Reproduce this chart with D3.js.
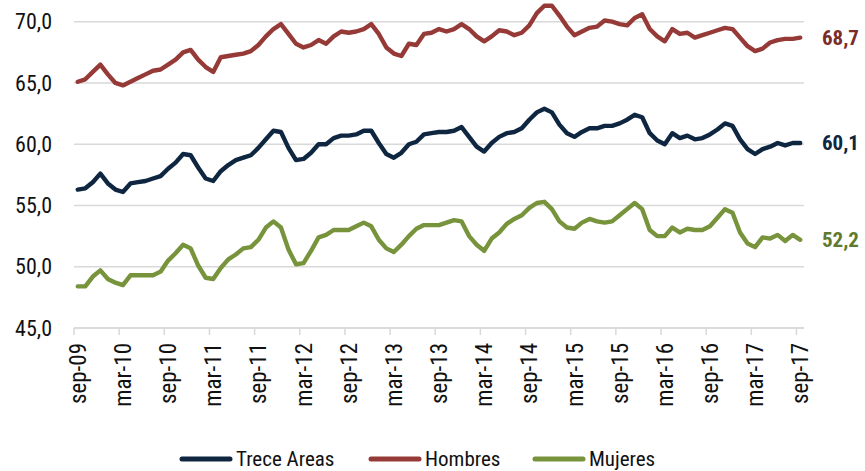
<!DOCTYPE html>
<html>
<head>
<meta charset="utf-8">
<script src="https://cdn.jsdelivr.net/npm/d3@7"></script>
<style>
  html, body { margin: 0; padding: 0; background: #ffffff; }
  svg { display: block; }
  text { font-family: "Liberation Sans Narrow", "Arial Narrow", "Roboto Condensed", "Liberation Sans", sans-serif; }
</style>
</head>
<body>
<svg id="chart" width="865" height="471"></svg>
<script>
// Monthly series, sep-2009 .. sep-2017 (97 months)
const startMonth = new Date(2009, 8, 1);
const endMonth = new Date(2017, 8, 1);

const trece = [
  56.3, 56.4, 56.9, 57.6, 56.8, 56.3, 56.1, 56.8, 56.9, 57.0, 57.2, 57.4, 58.0, 58.5, 59.2, 59.1,
  58.1, 57.2, 57.0, 57.8, 58.3, 58.7, 58.9, 59.1, 59.7, 60.4, 61.1, 61.0, 59.7, 58.7, 58.8,
  59.3, 60.0, 60.0, 60.5, 60.7, 60.7, 60.8, 61.1, 61.1, 60.1, 59.2, 58.9, 59.3, 60.0, 60.2, 60.8,
  60.9, 61.0, 61.0, 61.1, 61.4, 60.6, 59.8, 59.4, 60.1, 60.6, 60.9, 61.0, 61.3, 62.0, 62.6, 62.9,
  62.6, 61.6, 60.9, 60.6, 61.0, 61.3, 61.3, 61.5, 61.5, 61.7, 62.0, 62.4, 62.2, 60.9, 60.3, 60.0,
  60.9, 60.5, 60.7, 60.4, 60.5, 60.8, 61.2, 61.7, 61.5, 60.4, 59.6, 59.2, 59.6, 59.8, 60.1, 59.9, 60.1, 60.1
];

const hombres = [
  65.1, 65.3, 65.9, 66.5, 65.7, 65.0, 64.8, 65.1, 65.4, 65.7, 66.0, 66.1, 66.5, 66.9, 67.5, 67.7,
  66.9, 66.3, 65.9, 67.1, 67.2, 67.3, 67.4, 67.6, 68.1, 68.8, 69.4, 69.8, 69.0, 68.2, 67.9,
  68.1, 68.5, 68.2, 68.8, 69.2, 69.1, 69.2, 69.4, 69.8, 69.0, 67.9, 67.4, 67.2, 68.2, 68.1, 69.0,
  69.1, 69.4, 69.2, 69.4, 69.8, 69.4, 68.8, 68.4, 68.8, 69.3, 69.2, 68.9, 69.1, 69.7, 70.7, 71.3,
  71.3, 70.5, 69.6, 68.9, 69.2, 69.5, 69.6, 70.1, 70.0, 69.8, 69.7, 70.3, 70.6, 69.4, 68.8, 68.4,
  69.4, 69.0, 69.1, 68.7, 68.9, 69.1, 69.3, 69.5, 69.4, 68.7, 68.0, 67.6, 67.8, 68.3, 68.5, 68.6, 68.6, 68.7
];

const mujeres = [
  48.4, 48.4, 49.2, 49.7, 49.0, 48.7, 48.5, 49.3, 49.3, 49.3, 49.3, 49.6, 50.5, 51.1, 51.8, 51.5,
  50.1, 49.1, 49.0, 49.9, 50.6, 51.0, 51.5, 51.6, 52.2, 53.2, 53.7, 53.2, 51.4, 50.2, 50.3,
  51.3, 52.4, 52.6, 53.0, 53.0, 53.0, 53.3, 53.6, 53.3, 52.2, 51.5, 51.2, 51.8, 52.5, 53.1, 53.4,
  53.4, 53.4, 53.6, 53.8, 53.7, 52.5, 51.8, 51.3, 52.3, 52.8, 53.5, 53.9, 54.2, 54.8, 55.2, 55.3,
  54.7, 53.7, 53.2, 53.1, 53.6, 53.9, 53.7, 53.6, 53.7, 54.2, 54.7, 55.2, 54.7, 53.0, 52.5, 52.5,
  53.2, 52.8, 53.1, 53.0, 53.0, 53.3, 54.0, 54.7, 54.4, 52.8, 51.9, 51.6, 52.4, 52.3, 52.6, 52.1, 52.6, 52.2
];

const seriesNames = ["Trece Areas", "Hombres", "Mujeres"];
const seriesColors = ["#0f2641", "#963a37", "#77933c"];
const labelColors = ["#0f2641", "#7a2c2a", "#5f7a2e"];

const yTicks = [45, 50, 55, 60, 65, 70];
const xTickLabels = ["sep-09", "mar-10", "sep-10", "mar-11", "sep-11", "mar-12", "sep-12", "mar-13",
  "sep-13", "mar-14", "sep-14", "mar-15", "sep-15", "mar-16", "sep-16", "mar-17", "sep-17"];

const esMonth = ["ene", "feb", "mar", "abr", "may", "jun", "jul", "ago", "sep", "oct", "nov", "dic"];
const months = d3.timeMonth.range(startMonth, d3.timeMonth.offset(endMonth, 1))
  .map(d => esMonth[d.getMonth()] + "-" + String(d.getFullYear()).slice(2));

const svg = d3.select("#chart");
const plot = { left: 74, right: 804, top: 21.7, bottom: 328 };

const x = d3.scaleBand().domain(months).range([plot.left, plot.right]).padding(0);
const y = d3.scaleLinear().domain([45, 70]).range([plot.bottom, plot.top]);
const fmt = v => d3.format(".1f")(v).replace(".", ",");

// gridlines
svg.append("g")
  .selectAll("line")
  .data(yTicks)
  .join("line")
  .attr("x1", plot.left).attr("x2", plot.right)
  .attr("y1", d => y(d)).attr("y2", d => y(d))
  .attr("stroke", "#d9d9d9").attr("stroke-width", 1.5);

// y axis labels
svg.append("g")
  .selectAll("text")
  .data(yTicks)
  .join("text")
  .attr("x", 52).attr("y", d => y(d))
  .attr("dy", "0.35em")
  .attr("text-anchor", "end")
  .attr("font-size", 22)
  .attr("fill", "#111")
  .text(fmt);

// x axis with tick marks at category boundaries every 6 months
const tickMonths = months.filter(m => xTickLabels.includes(m));
const xAxis = svg.append("g").attr("transform", `translate(0,${plot.bottom})`);
xAxis.append("line")
  .attr("x1", plot.left).attr("x2", plot.right)
  .attr("stroke", "#d9d9d9").attr("stroke-width", 1.5);
xAxis.selectAll("line.tick")
  .data(tickMonths)
  .join("line")
  .attr("class", "tick")
  .attr("x1", d => x(d)).attr("x2", d => x(d))
  .attr("y1", 0).attr("y2", 7)
  .attr("stroke", "#d9d9d9").attr("stroke-width", 1.5);
xAxis.selectAll("text")
  .data(tickMonths)
  .join("text")
  .attr("transform", d => `translate(${x(d) + x.bandwidth() / 2},15) rotate(-90)`)
  .attr("dy", "0.35em")
  .attr("text-anchor", "end")
  .attr("font-size", 23)
  .attr("fill", "#111")
  .text(d => d);

// series lines
const allSeries = [trece, hombres, mujeres];
const line = d3.line()
  .x((d, i) => x(months[i]) + x.bandwidth() / 2)
  .y(d => y(d));

svg.append("g")
  .selectAll("path")
  .data(allSeries)
  .join("path")
  .attr("d", line)
  .attr("fill", "none")
  .attr("stroke", (d, i) => seriesColors[i])
  .attr("stroke-width", 4.4)
  .attr("stroke-linejoin", "round")
  .attr("stroke-linecap", "round");

// last-value labels
svg.append("g")
  .selectAll("text")
  .data(allSeries)
  .join("text")
  .attr("x", 822)
  .attr("y", d => y(d[d.length - 1]))
  .attr("dy", "0.35em")
  .attr("font-size", 21)
  .attr("font-weight", "bold")
  .attr("fill", (d, i) => labelColors[i])
  .text(d => fmt(d[d.length - 1]));

// legend
const legendX = [180, 369, 533];
const legend = svg.append("g");
seriesNames.forEach((name, i) => {
  const g = legend.append("g").attr("transform", `translate(${legendX[i]},459)`);
  g.append("line")
    .attr("x1", 2).attr("x2", 50)
    .attr("stroke", seriesColors[i])
    .attr("stroke-width", 5)
    .attr("stroke-linecap", "round");
  g.append("text")
    .attr("x", 56).attr("y", 0)
    .attr("dy", "0.35em")
    .attr("font-size", 21)
    .attr("fill", "#111")
    .text(name);
});
</script>
</body>
</html>
